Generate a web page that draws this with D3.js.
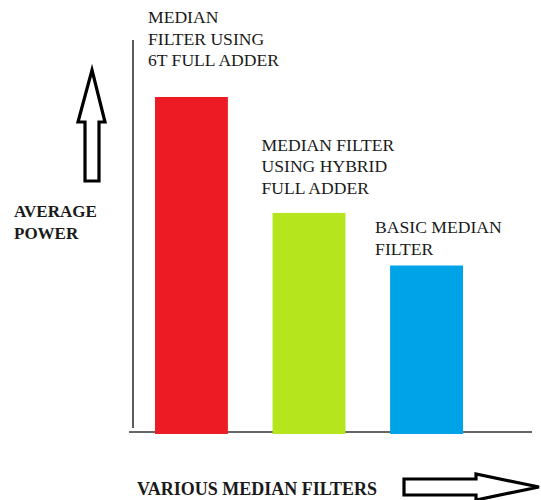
<!DOCTYPE html>
<html>
<head>
<meta charset="utf-8">
<script src="https://cdn.jsdelivr.net/npm/d3@7"></script>
<style>
    body { margin: 0; background: #fff; }
    text { font-family: "Liberation Serif", "Times New Roman", serif; fill: #1a1a1a; }
</style>
</head>
<body>
<div class="chart"></div>
<script>

// data (no numeric axis, relative heights only)
const categories = ["6T", "HYBRID", "BASIC"];
const powerValues = [100, 65.6, 50];
const barLabels = [
    ["MEDIAN", "FILTER USING", "6T FULL ADDER"],
    ["MEDIAN FILTER", "USING HYBRID", "FULL ADDER"],
    ["BASIC MEDIAN", "FILTER"]
];
const barColors = ["#ed1c24", "#b5e61d", "#00a2e8"];
const yTitle = ["AVERAGE", "POWER"];
const xTitle = "VARIOUS MEDIAN FILTERS";

// label placement relative to each bar's top left corner
const labelShift = [
    { dx: -7, dy: -31 },
    { dx: -11, dy: -19 },
    { dx: -15, dy: -11 }
];


function BarChart(container) {

    const width = 541, height = 500;
    const lineHeight = 21.5;

    const svg = d3.select(container)
        .append("svg")
        .attr("width", width)
        .attr("height", height);

    let xScale = d3.scaleBand()
        .domain(categories)
        .range([155, 463])
        .paddingInner(0.38)
        .paddingOuter(0);

    let yScale = d3.scaleLinear()
        .domain([0, 100])
        .range([434, 97]);

    // axes are bare lines in the picture
    svg.append("line")
        .attr("x1", 133).attr("x2", 133)
        .attr("y1", 40).attr("y2", 428)
        .attr("stroke", "#333")
        .attr("stroke-width", 1.6);
    svg.append("line")
        .attr("x1", 129).attr("x2", 532)
        .attr("y1", 432).attr("y2", 432)
        .attr("stroke", "#333")
        .attr("stroke-width", 1.6);

    const data = categories.map((c, i) => ({ cat: c, value: powerValues[i], color: barColors[i], label: barLabels[i], shift: labelShift[i] }));

    svg.selectAll(".bar")
        .data(data)
        .enter()
        .append("rect")
        .attr("class", "bar")
        .attr("x", d => xScale(d.cat))
        .attr("y", d => yScale(d.value))
        .attr("width", xScale.bandwidth())
        .attr("height", d => yScale(0) - yScale(d.value))
        .attr("fill", d => d.color);

    // labels stacked above each bar
    const labels = svg.selectAll(".bar-label")
        .data(data)
        .enter()
        .append("text")
        .attr("class", "bar-label")
        .attr("font-size", 17.6)
        .attr("transform", d => `translate(${xScale(d.cat) + d.shift.dx}, ${yScale(d.value) + d.shift.dy})`);

    labels.selectAll("tspan")
        .data(d => d.label.map((t, j) => ({ t, j, n: d.label.length })))
        .enter()
        .append("tspan")
        .attr("x", 0)
        .attr("y", d => -(d.n - 1 - d.j) * lineHeight)
        .text(d => d.t);

    // y title
    svg.append("text")
        .attr("font-size", 17)
        .attr("font-weight", "bold")
        .selectAll("tspan")
        .data(yTitle)
        .enter()
        .append("tspan")
        .attr("x", 14)
        .attr("y", (d, i) => 217 + i * 22)
        .text(d => d);

    // x title
    svg.append("text")
        .attr("x", 137)
        .attr("y", 495)
        .attr("font-size", 18)
        .attr("font-weight", "bold")
        .text(xTitle);

    // hollow arrows
    const arrowStyle = g => g.attr("fill", "#fff").attr("stroke", "#000").attr("stroke-width", 3.2).attr("stroke-linejoin", "miter");

    svg.append("path")
        .attr("d", "M92,70 L105,122 L99,122 L99,181 L85,181 L85,122 L78,122 Z")
        .call(arrowStyle);

    svg.append("path")
        .attr("d", "M404,479 L476,479 L476,474 L539,487 L476,500 L476,495 L404,495 Z")
        .call(arrowStyle);
}

BarChart(".chart");
</script>
</body>
</html>
